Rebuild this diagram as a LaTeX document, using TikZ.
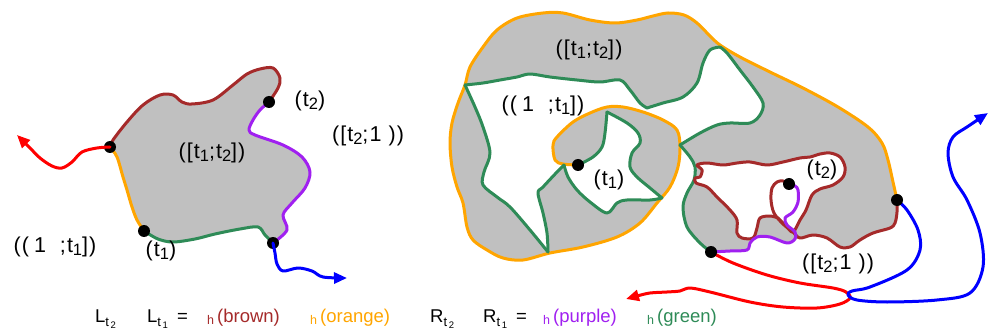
\documentclass[tikz,border=0pt]{standalone}
\usepackage{fontspec}
\setmainfont{Liberation Sans}
\newfontfamily\lblfont[LetterSpace=5]{Liberation Sans}
\usetikzlibrary{arrows.meta}
\definecolor{cbrown}{RGB}{165,42,42}
\definecolor{corange}{RGB}{255,165,0}
\definecolor{cpurple}{RGB}{160,32,240}
\definecolor{cgreen}{RGB}{46,139,87}
\definecolor{cgray}{RGB}{192,192,192}
\newcommand\sbx[1]{\raisebox{-2.5pt}{\fontsize{16.5}{16.5}\selectfont #1}}
\newcommand\lsub[1]{\raisebox{-4.5pt}{\fontsize{13}{13}\selectfont t\raisebox{-1.5pt}{\fontsize{9.5}{9.5}\selectfont\,#1}}}
\newcommand\hsm{{\fontsize{12.5}{12.5}\selectfont\raisebox{-2pt}{h}}\kern3pt}
\newcommand\plt{plot[smooth,tension=.55] coordinates}
\newcommand\dpath[2]{\edef\tmpcmd{\noexpand\draw[#1] #2;}\tmpcmd}
\newcommand\fpath[2]{\edef\tmpcmd{\noexpand\fill[#1] #2;}\tmpcmd}
\tikzset{
  curve/.style={line width=3pt, line cap=round, line join=round},
  cb/.style={curve, draw=cbrown},
  co/.style={curve, draw=corange},
  cp/.style={curve, draw=cpurple},
  cg/.style={curve, draw=cgreen},
  cr/.style={curve, draw=red},
  cu/.style={curve, draw=blue},
  arr/.style={-{Triangle[length=13pt,width=11pt]}},
  dot/.style={circle, fill=black, inner sep=0pt, minimum size=12pt},
  lbl/.style={font=\lblfont\fontsize{21.5}{24}\selectfont, inner sep=0pt},
  leg/.style={font=\fontsize{18.5}{22}\selectfont, inner sep=0pt, anchor=base west}
}
\begin{document}
\begin{tikzpicture}[x=1pt,y=-1pt]
\useasboundingbox (0,0) rectangle (990,331);
% ---------- left figure ----------
\def\LB{(110,147) (113,140) (127,122) (143,105) (160,95) (173,95) (182,102) (192,104) (213,100) (233,85) (247,74) (260,69) (273,68) (280,78) (278,88) (269,102)}
\def\LP{(269,102) (260,110) (253,120) (249,130) (255,135) (283,145) (302,157) (310,172) (305,188) (292,203) (283,215) (287,230) (273,243)}
\def\LG{(273,243) (265,235) (258,227) (240,229) (215,234) (195,239) (173,242) (158,239) (144,231)}
\def\LO{(144,231) (137,220) (132,207) (127,190) (123,177) (117,157) (110,147)}
\fpath{cgray}{\plt{\LB} -- \plt{\LP} -- \plt{\LG} -- \plt{\LO} -- cycle}
\dpath{cb}{\plt{\LB}}
\dpath{cp}{\plt{\LP}}
\dpath{cg}{\plt{\LG}}
\dpath{co}{\plt{\LO}}
\node[dot] (A) at (110,147) {};
\node[dot] (B) at (269,102) {};
\node[dot] (C) at (273,243) {};
\node[dot] (D) at (144,231) {};
\draw[cr,arr] plot[smooth,tension=.55] coordinates {(110,147) (97,148) (82,152) (72,162) (62,168) (52,166) (40,158) (30,148) (17,135)};
\draw[cu,arr] plot[smooth,tension=.55] coordinates {(273,243) (275,253) (277,264) (283,271) (298,268) (312,271) (323,277) (347,278)};
\node[lbl] (lt2) at (310,101) {(t\sbx{2})};
\node[lbl] (lt12) at (212,153) {([t\sbx{1};t\sbx{2}])};
\node[lbl] (lt2i) at (368,136) {([t\sbx{2};1 ))};
\node[lbl] (lmi) at (55,247) {((\kern5pt 1\hspace{14pt};t\sbx{1}])};
\node[lbl] (lt1) at (161,251) {(t\sbx{1})};
% ---------- right figure ----------
\def\GrayA{(897,200) (893,182) (888,160) (882,143) (868,127) (838,107) (803,88) (770,72) (740,57) (720,45) (710,36) (697,23) (684,15) (668,13) (653,16) (637,20) (615,23) (590,20) (563,13) (543,13) (517,18) (497,30) (483,47) (470,67) (465,85) (458,103) (452,123) (450,143) (452,167) (457,187) (463,203) (467,227) (473,240) (487,250) (503,258) (523,260) (550,253) (583,247) (617,237) (640,223) (657,203) (670,187) (678,167) (680,147)}
\def\ROall{(897,200) (893,182) (888,160) (882,143) (868,127) (838,107) (803,88) (770,72) (740,57) (720,45) (710,36) (697,23) (684,15) (668,13) (653,16) (637,20) (615,23) (590,20) (563,13) (543,13) (517,18) (497,30) (483,47) (470,67) (465,85) (458,103) (452,123) (450,143) (452,167) (457,187) (463,203) (467,227) (473,240) (487,250) (503,258) (523,260) (550,253) (583,247) (617,237) (640,223) (657,203) (670,187) (678,167) (680,147) (677,130) (663,120) (643,112) (623,107) (607,107) (590,113) (573,122) (557,137) (553,145) (555,160) (563,164) (578,165)}
\def\GoneR{(680,145) (690,157) (695,167) (694,180) (687,193) (683,207) (687,227) (700,243) (711,252)}
\def\Bot{(711,252) (730,251) (747,250) (750,243) (757,237) (770,237) (787,243) (795,239) (800,238) (813,235) (827,238) (840,247) (850,247) (860,240) (873,233) (890,228) (895,223) (897,212) (897,200)}
\def\Gtwo{(680,145) (700,133) (717,125) (730,123) (750,123) (760,115) (763,103) (753,87) (740,70) (727,53) (720,47)}
\def\Gthree{(720,47) (710,50) (703,63) (697,83) (683,97) (663,103) (647,108)}
\def\Gfour{(647,108) (640,103) (630,90) (620,80) (600,82) (577,80) (550,77) (530,74) (517,77) (500,80) (483,83) (465,85)}
\def\Gfive{(465,85) (475,107) (483,127) (490,153) (484,172) (483,185) (497,197) (510,207) (530,230) (548,252)}
\def\Gsix{(548,252) (547,233) (543,213) (538,193) (543,187) (557,172) (564,165)}
\def\Gseven{(564,165) (568,177) (577,190) (590,202) (607,213) (617,203) (627,200) (650,200) (662,198)}
\def\Geight{(662,198) (650,188) (637,177) (630,167) (632,153) (640,143) (638,133) (627,123) (607,112)}
\def\Gnine{(607,112) (605,133) (602,147) (593,157) (578,165)}
\def\BlobTop{(564,165) (555,160) (553,145) (557,137) (573,122) (590,113) (607,107) (623,107) (643,112) (663,120) (677,130) (680,145)}
\def\BRone{(897,200) (897,212) (895,223) (890,228) (873,233) (860,240) (850,247) (840,247) (827,238) (813,235) (800,238) (793,232) (783,224) (774,213) (771,200) (772,188) (777,182) (783,181) (789,184)}
\def\BRtwo{(778,218) (786,226) (793,232) (800,220) (806,210) (812,195) (820,189) (833,185) (843,177) (845,167) (840,157) (830,153) (820,154) (810,157) (800,158) (783,162) (767,165) (750,162) (737,163) (723,165) (707,163) (697,165) (702,170) (700,177) (695,178) (696,183) (707,187) (717,197) (730,210) (737,220) (737,233) (742,238) (753,238) (757,228) (760,218) (770,216) (778,218)}
\def\PU{(711,252) (730,251) (747,250) (750,243) (757,237) (770,237) (787,243) (795,239) (795,232) (787,225) (785,218) (793,212) (798,202) (798,190) (795,186) (789,184)}
% fills
\fpath{cgray}{\plt{\GrayA} -- \plt{\GoneR} -- \plt{\Bot} -- cycle}
\fpath{white}{\plt{\Gfive} -- \plt{\Gsix} -- \plt{\BlobTop} -- \plt{\Gtwo} -- \plt{\Gthree} -- \plt{\Gfour} -- cycle}
\fpath{white}{\plt{\Gseven} -- \plt{\Geight} -- \plt{\Gnine} -- cycle}
\fpath{white}{\plt{\BRtwo} -- cycle}
% strokes
\dpath{co}{\plt{\ROall}}
\dpath{cg}{\plt{\GoneR}}
\dpath{cg}{\plt{\Gtwo}}
\dpath{cg}{\plt{\Gthree}}
\dpath{cg}{\plt{\Gfour}}
\dpath{cg}{\plt{\Gfive}}
\dpath{cg}{\plt{\Gsix}}
\dpath{cg}{\plt{\Gseven}}
\dpath{cg}{\plt{\Geight}}
\dpath{cg}{\plt{\Gnine}}
\dpath{cb}{\plt{\BRone}}
\dpath{cb}{\plt{\BRtwo}}
\dpath{cp}{\plt{\PU}}
\draw[cr,arr] plot[smooth,tension=.55] coordinates {(711,252) (733,263) (767,275) (800,283) (833,288) (846,292) (850,298) (840,304) (817,308) (783,307) (750,302) (710,292) (690,288) (680,291) (667,292) (650,293) (637,296) (626,299)};
\draw[cu,arr] plot[smooth,tension=.55] coordinates {(897,200) (907,210) (918,230) (920,250) (907,270) (870,287) (852,291) (848,295) (857,300) (887,302) (937,300) (970,293) (983,267) (980,233) (967,200) (953,177) (948,153) (953,137) (967,127) (988,113)};
\node[dot] (P) at (578,165) {};
\node[dot] (Q) at (789,184) {};
\node[dot] (S) at (711,252) {};
\node[dot] (T) at (897,200) {};
\node[lbl] (rt12) at (589,50) {([t\sbx{1};t\sbx{2}])};
\node[lbl] (rmi) at (543,106) {((\kern5pt 1\hspace{14pt};t\sbx{1}])};
\node[lbl] (rt1) at (609,180) {(t\sbx{1})};
\node[lbl] (rt2) at (822,170) {(t\sbx{2})};
\node[lbl] (rt2i) at (838,264) {([t\sbx{2};1 ))};
% ---------- legend ----------
\node[leg] (l1) at (95,322) {L\lsub{2}};
\node[leg] (l2) at (147,322) {L\lsub{1}};
\node[leg] (eq1) at (177,322) {=};
\node[leg, text=cbrown] (hb) at (207,322) {\hsm(brown)};
\node[leg, text=corange] (ho) at (310,322) {\hsm(orange)};
\node[leg] (r1) at (430,322) {R\lsub{2}};
\node[leg] (r2) at (483,322) {R\lsub{1}};
\node[leg] (eq2) at (516,322) {=};
\node[leg, text=cpurple] (hp) at (543,322) {\hsm(purple)};
\node[leg, text=cgreen] (hg) at (647,322) {\hsm(green)};
\end{tikzpicture}
\end{document}
